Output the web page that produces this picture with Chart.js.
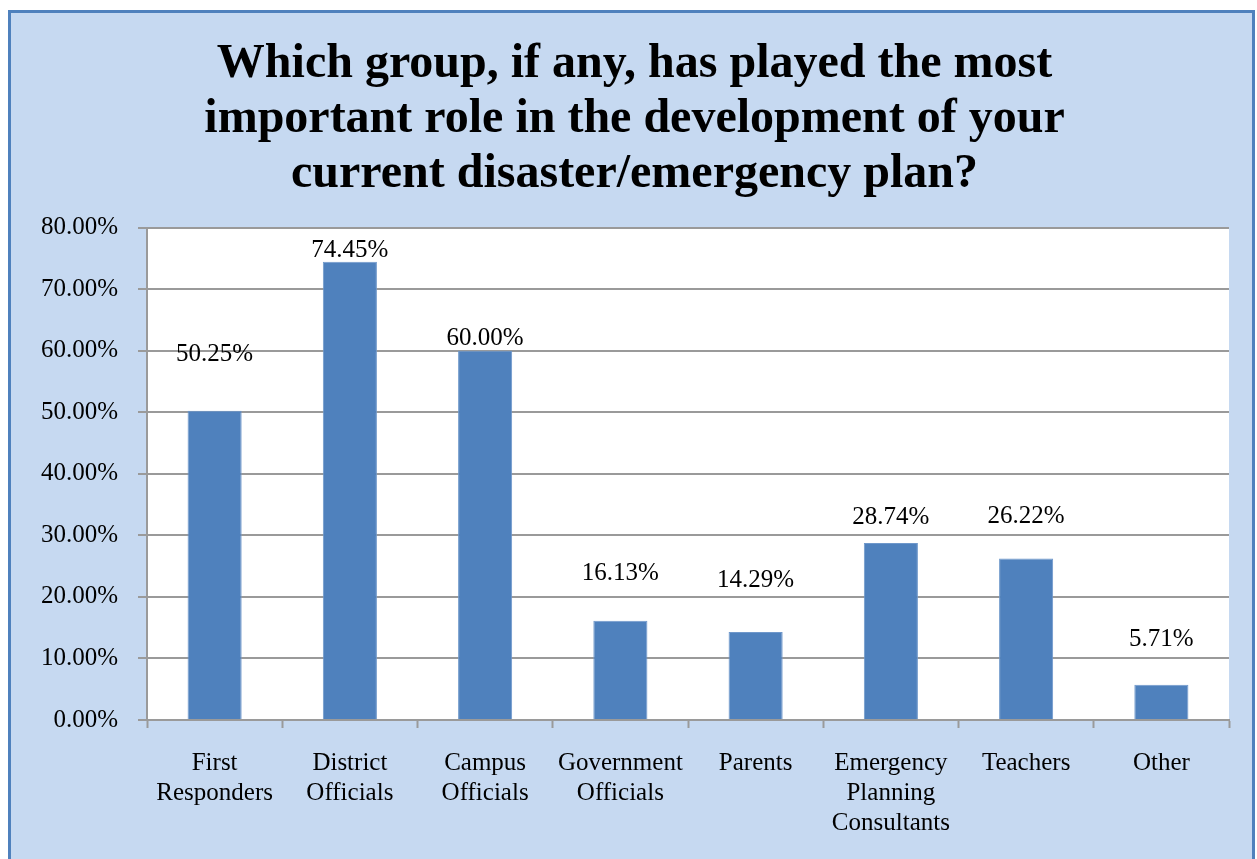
<!DOCTYPE html>
<html>
<head>
<meta charset="utf-8">
<script src="https://cdn.jsdelivr.net/npm/chart.js@4/dist/chart.umd.min.js"></script>
<style>
    body { margin: 0; background: #ffffff; overflow: hidden; }
    #frame {
        position: absolute; left: 8px; top: 10px;
        width: 1241px; height: 900px;
        background: #c6d9f1;
        border: 3px solid #4f81bd;
    }
    #wrap { position: absolute; left: 0; top: 0; width: 1257px; height: 859px; }
</style>
</head>
<body>
<div id="frame"></div>
<div id="wrap"><canvas id="chart" width="1257" height="859"></canvas></div>
<script>
// categories (multi-line as on the original axis)
const groups = [
    ['First', 'Responders'],
    ['District', 'Officials'],
    ['Campus', 'Officials'],
    ['Government', 'Officials'],
    ['Parents'],
    ['Emergency', 'Planning', 'Consultants'],
    ['Teachers'],
    ['Other']
];

// share of respondents, in percent
const shares = [50.25, 74.45, 60.00, 16.13, 14.29, 28.74, 26.22, 5.71];

const titleLines = [
    'Which group, if any, has played the most',
    'important role in the development of your',
    'current disaster/emergency plan?'
];

const serif = '"Liberation Serif", "Times New Roman", serif';

/**
 * Fills the plot area white, the rest stays transparent over the blue frame.
 */
const plotBackground = {
    id: 'plotBackground',
    beforeDraw(chart) {
        const a = chart.chartArea;
        const ctx = chart.ctx;
        ctx.save();
        ctx.fillStyle = '#ffffff';
        ctx.fillRect(a.left, a.top, a.right - a.left, a.bottom - a.top);
        ctx.restore();
    }
};

/**
 * Writes the value over every bar. The original labels do not sit at a fixed
 * distance from the bar tops, so each one gets its own lift in pixels.
 */
const valueLabels = {
    id: 'valueLabels',
    afterDatasetsDraw(chart, args, opts) {
        const ctx = chart.ctx;
        const meta = chart.getDatasetMeta(0);
        ctx.save();
        ctx.font = opts.font;
        ctx.fillStyle = '#000000';
        ctx.textAlign = 'center';
        ctx.textBaseline = 'middle';
        meta.data.forEach(function(bar, i) {
            const v = chart.data.datasets[0].data[i];
            ctx.fillText(v.toFixed(2) + '%', bar.x, bar.y - opts.lift[i]);
        });
        ctx.restore();
    }
};

new Chart(document.getElementById('chart'), {
    type: 'bar',
    data: {
        labels: groups,
        datasets: [{
            data: shares,
            backgroundColor: '#4f81bd',
            borderColor: '#6f98cb',
            borderWidth: 1,
            barPercentage: 0.4,
            categoryPercentage: 1
        }]
    },
    options: {
        responsive: false,
        animation: false,
        layout: {
            // left pad is wide so the title centres like the original
            padding: { left: 40, right: 28, top: 0, bottom: 0 }
        },
        plugins: {
            legend: { display: false },
            tooltip: { enabled: false },
            title: {
                display: true,
                text: titleLines,
                color: '#000000',
                font: { family: serif, size: 48, weight: 'bold', lineHeight: 1.15 },
                padding: { top: 37, bottom: 25 }
            },
            valueLabels: {
                font: '25px ' + serif,
                lift: [56, 11, 12, 47, 52, 26, 42, 45]
            }
        },
        scales: {
            x: {
                grid: {
                    drawOnChartArea: false,
                    drawTicks: true,
                    tickLength: 8,
                    tickWidth: 2,
                    tickColor: '#9a9a9a'
                },
                border: { color: '#9a9a9a', width: 2 },
                ticks: {
                    color: '#000000',
                    font: { family: serif, size: 25, lineHeight: 1.2 },
                    padding: 20,
                    maxRotation: 0,
                    autoSkip: false
                },
                afterFit(scale) { scale.height = 139; }
            },
            y: {
                min: 0,
                max: 80,
                grid: {
                    color: '#9a9a9a',
                    lineWidth: 2,
                    tickLength: 9,
                    tickColor: '#9a9a9a'
                },
                border: { color: '#9a9a9a', width: 2 },
                ticks: {
                    stepSize: 10,
                    color: '#000000',
                    font: { family: serif, size: 25 },
                    padding: 20,
                    callback: function(v) { return v.toFixed(2) + '%'; }
                },
                afterFit(scale) { scale.width = 107; }
            }
        }
    },
    plugins: [plotBackground, valueLabels]
});
</script>
</body>
</html>
